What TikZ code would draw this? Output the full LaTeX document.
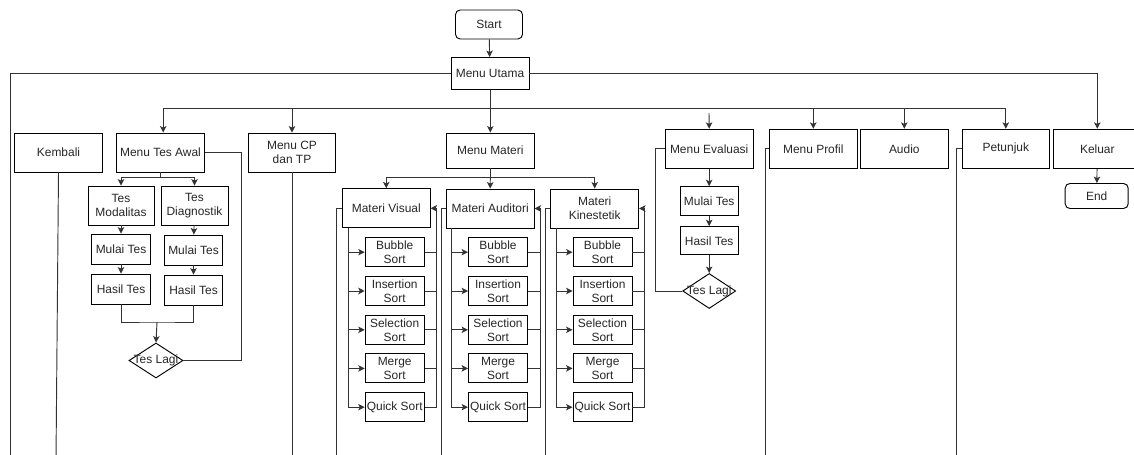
\documentclass[tikz,border=0pt]{standalone}
\usepackage{fontspec}
\setmainfont{Liberation Sans}
\usetikzlibrary{arrows.meta,shapes.geometric}

\begin{document}
\begin{tikzpicture}[
    x=0.03cm, y=-0.03cm,
    font=\fontsize{10.2}{12}\selectfont,
    box/.style={rectangle, draw=black, line width=0.8pt, text=black!85, align=center,
        inner sep=1pt, minimum width=2.63cm, minimum height=1.17cm},
    smallbox/.style={box, minimum width=1.75cm, minimum height=0.9cm},
    sortbox/.style={box, minimum width=1.77cm, minimum height=0.87cm},
    terminal/.style={box, rounded corners=4pt},
    decision/.style={diamond, draw=black, line width=0.8pt, text=black!85,
        inner sep=0pt, minimum width=1.62cm, minimum height=1.05cm},
    line/.style={draw=black!80, line width=0.8pt},
    arr/.style={line, -{Stealth[length=5.5pt, width=5.5pt, inset=1.3pt]}}
]
\useasboundingbox (0,0) rectangle (1134,455);
\clip (0,0) rectangle (1134,455);

% === MAIN MENU ===
\node[terminal, minimum width=2.01cm, minimum height=0.87cm] (start) at (489,24.5) {Start};
\node[box, minimum width=2.34cm, minimum height=0.96cm] (utama) at (490,73.5) {Menu Utama};
\draw[arr] (start) -- (utama);

% top level entries
\node[box] (kembali) at (58.5,152.5) {Kembali};
\node[box] (tesawal) at (160.5,152.5) {Menu Tes Awal};
\node[box] (cptp) at (292,152.5) {Menu CP\\dan TP};
\node[box, minimum height=1.05cm] (materi) at (490.3,150.5) {Menu Materi};
\node[box] (evaluasi) at (709.2,148.8) {Menu Evaluasi};
\node[box] (profil) at (813.3,148.8) {Menu Profil};
\node[box] (audio) at (904.3,148.8) {Audio};
\node[box] (petunjuk) at (1005.8,148.8) {Petunjuk};
\node[box] (keluar) at (1097.3,148.8) {Keluar};
\node[terminal, minimum width=1.89cm, minimum height=0.75cm] (end) at (1096.7,196) {End};

% bus from the main menu
\coordinate (bus) at (490,108);
\coordinate (evalin) at (709,113);
\coordinate (outer) at (10,460);
\draw[line] (utama.south) -- (bus);
\draw[line] ([xshift=0.08cm]bus -| tesawal) -- (bus -| petunjuk);
\draw[arr] ([xshift=0.08cm]bus -| tesawal) -- ([xshift=0.08cm]tesawal.north);
\foreach \n in {cptp, materi, profil, audio, petunjuk}
    \draw[arr] (bus -| \n) -- (\n.north);
\draw[arr] (evalin) -- (evaluasi.north);
\draw[arr] (utama.east) -| (keluar.north);
\draw[line] (utama.west) -| (outer);
\draw[arr] (keluar) -- (end);

% lines running off the bottom
\coordinate (kembali-bot) at (56,460);
\coordinate (cptp-bot) at (292,460);
\coordinate (profil-bot) at (765,460);
\coordinate (petunjuk-bot) at (956.7,460);
\draw[line] (kembali.south) -- (kembali-bot);
\draw[line] (cptp.south) -- (cptp-bot);
\draw[line] (profil.west) -| (profil-bot);
\draw[line] (petunjuk.west) -| (petunjuk-bot);

% === TES AWAL ===
\node[box, minimum width=1.98cm] (modalitas) at (121,205.5) {Tes\\Modalitas};
\node[box, minimum width=2.01cm] (diagnostik) at (194.5,205.5) {Tes\\Diagnostik};
\node[smallbox] (mulai1) at (121,249) {Mulai Tes};
\node[smallbox] (mulai2) at (193.5,250) {Mulai Tes};
\node[smallbox] (hasil1) at (121,289) {Hasil Tes};
\node[smallbox] (hasil2) at (193.5,290) {Hasil Tes};
\node[decision] (teslagi1) at (156,360.5) {\makebox[0pt]{Tes Lagi}};

\coordinate (tsplit) at (160.5,177);
\coordinate (tmerge) at (157,322);
\coordinate (tloop) at (241,360.5);
\draw[line] (tesawal.south) -- (tsplit);
\draw[arr] (tsplit) -| (modalitas.north);
\draw[arr] (tsplit) -| (diagnostik.north);
\draw[arr] (modalitas) -- (mulai1);
\draw[arr] (mulai1) -- (hasil1);
\draw[arr] (diagnostik) -- (mulai2);
\draw[arr] (mulai2) -- (hasil2);
\draw[line] (hasil1.south) |- (tmerge) -| (hasil2.south);
\draw[arr] (tmerge) -- (teslagi1.north);
\draw[line] (teslagi1.east) -- (tloop) |- (tesawal.east);

% === MATERI ===
\node[box] (visual) at (386.3,208.3) {Materi Visual};
\node[box] (auditori) at (490.2,208.5) {Materi Auditori};
\node[box] (kinestetik) at (594.7,208.5) {Materi\\Kinestetik};

\coordinate (msplit) at (490.3,177);
\draw[line] (materi.south) -- (msplit);
\draw[arr] (msplit) -| (visual.north);
\draw[arr] (msplit) -- (auditori.north);
\draw[arr] (msplit) -| (kinestetik.north);

% sorting topics per learning style
\foreach \m/\cx in {v/394.7, a/498.0, k/602.5} {
    \node[sortbox] (\m1) at (\cx,252.2) {Bubble\\Sort};
    \node[sortbox] (\m2) at (\cx,291.0) {Insertion\\Sort};
    \node[sortbox] (\m3) at (\cx,329.8) {Selection\\Sort};
    \node[sortbox] (\m4) at (\cx,368.4) {Merge\\Sort};
    \node[sortbox] (\m5) at (\cx,407.2) {Quick Sort};
}

\foreach \m/\mat/\bx in {v/visual/336.7, a/auditori/441.7, k/kinestetik/545.7} {
    \coordinate (\m-left) at ([xshift=0.18cm]\mat.south west);
    \coordinate (\m-right) at ([xshift=0.17cm]\mat.east);
    \coordinate (\m-bot) at (\bx,460);
    \draw[arr] (\m-left) |- (\m5.west);
    \foreach \i in {1,...,4}
        \draw[arr] (\m-left |- \m\i) -- (\m\i.west);
    \draw[arr] (\m5.east) -| (\m-right) -- (\mat.east);
    \foreach \i in {1,...,4}
        \draw[line] (\m\i.east) -- (\m\i.east -| \m-right);
    \draw[line] (\mat.west) -| (\m-bot);
}

% === EVALUASI ===
\node[smallbox, minimum height=0.87cm] (mulai3) at (709.2,201.2) {Mulai Tes};
\node[smallbox, minimum height=0.85cm] (hasil3) at (709.2,240.8) {Hasil Tes};
\node[decision, minimum width=1.59cm] (teslagi2) at (709.2,291) {\makebox[0pt]{Tes Lagi}};

\coordinate (eloop) at (655,291);
\draw[arr] (evaluasi) -- (mulai3);
\draw[arr] (mulai3) -- (hasil3);
\draw[arr] (hasil3) -- (teslagi2);
\draw[line] (teslagi2.west) -- (eloop) |- (evaluasi.west);

\end{tikzpicture}
\end{document}
